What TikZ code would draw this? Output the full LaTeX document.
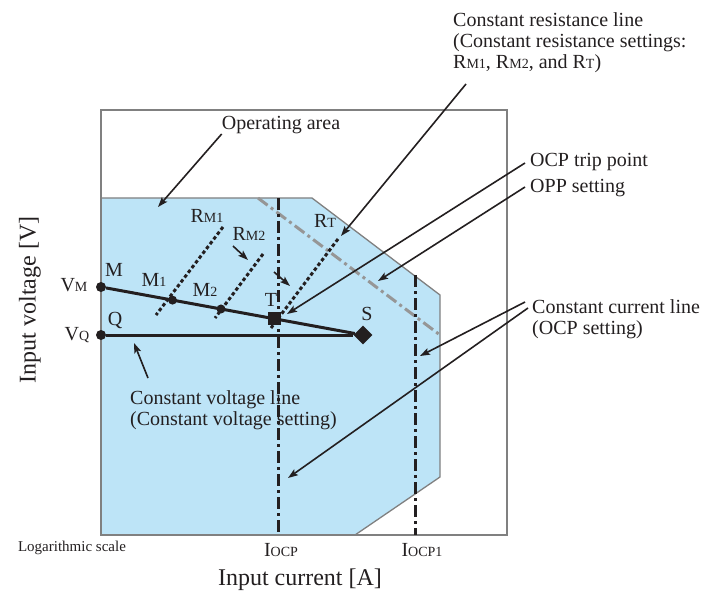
\documentclass[tikz,border=0pt]{standalone}
\usepackage{fontspec}
\setmainfont{Liberation Serif}
\usetikzlibrary{arrows.meta, shapes.geometric}
\definecolor{AreaBlue}{RGB}{189,228,247}
\definecolor{EdgeGray}{RGB}{128,128,128}
\definecolor{OppGray}{RGB}{150,150,150}
\definecolor{InkBlack}{RGB}{35,31,32}
\newcommand\smsub[1]{{\fontsize{14}{14}\selectfont #1}}

\begin{document}
\begin{tikzpicture}[x=1pt, y=-1pt,
    lbl/.style={font=\fontsize{20}{21}\selectfont, text=InkBlack, inner sep=0pt, align=left},
    axlbl/.style={font=\fontsize{24}{26}\selectfont, text=InkBlack, inner sep=0pt},
    frame/.style={draw=EdgeGray, line width=2.8pt},
    area/.style={fill=AreaBlue, draw=EdgeGray, line width=1.3pt},
    ocpline/.style={draw=InkBlack, line width=3pt, dash pattern=on 12pt off 4pt on 3pt off 4pt},
    oppline/.style={draw=OppGray, line width=3pt, dash pattern=on 12pt off 4pt on 3pt off 4pt},
    crline/.style={draw=InkBlack, line width=3pt, dash pattern=on 3.5pt off 2.5pt},
    opline/.style={draw=InkBlack, line width=3pt},
    dot/.style={circle, fill=InkBlack, inner sep=0pt, minimum size=10pt},
    lead/.style={-{Stealth[length=10pt, width=7pt, inset=2pt]}, draw=InkBlack, line width=1.6pt}
  ]
  \useasboundingbox (0,0) rectangle (712,596);

  % operating area and frame
  \fill[area] (101,198) -- (312,198) -- (440,295) -- (440,477) -- (355,535) -- (101,535) -- cycle;
  \draw[frame] (101,110) rectangle (507,535);

  % OPP and OCP lines
  \coordinate (opptop) at (258,198);
  \coordinate (oppbot) at (440,335);
  \coordinate (ocptop) at (278,198);
  \coordinate (ocpbot) at (278,535);
  \coordinate (ocp1top) at (415,275);
  \coordinate (ocp1bot) at (415,535);
  \draw[oppline] (opptop) -- (oppbot);
  \draw[ocpline] (ocptop) -- (ocpbot);
  \draw[ocpline] (ocp1top) -- (ocp1bot);

  % constant resistance lines
  \coordinate (rm1a) at (223,227);
  \coordinate (rm1b) at (156,315);
  \coordinate (rm2a) at (263,254);
  \coordinate (rm2b) at (215,318);
  \coordinate (rta) at (338,239);
  \coordinate (rtb) at (271,328);
  \draw[crline] (rm1a) -- (rm1b);
  \draw[crline] (rm2a) -- (rm2b);
  \draw[crline] (rta) -- (rtb);

  % operating points
  \node[dot] (M) at (101,287) {};
  \node[dot] (Q) at (101,335) {};
  \node[diamond, fill=InkBlack, inner sep=0pt, minimum size=19pt] (S) at (363,335) {};
  \draw[opline] (Q) -- (S);
  \draw[opline] (M) -- (S);
  \path (M) -- (S)
    node[dot, pos=0.267, minimum size=9pt] (M1) {}
    node[dot, pos=0.462, minimum size=9pt] (M2) {}
    node[rectangle, fill=InkBlack, inner sep=0pt, minimum size=13pt, pos=0.676] (T) {};

  % point labels
  \node[lbl] (Mlab) at (114,270) {M};
  \node[lbl] (M1lab) at (154,280) {M\smsub{1}};
  \node[lbl] (M2lab) at (205,290) {M\smsub{2}};
  \node[lbl] (Tlab) at (271,300) {T};
  \node[lbl] (Qlab) at (115,320) {Q};
  \node[lbl] (Slab) at (367,314) {S};
  \node[lbl] (VMlab) at (74,285) {V\smsub{M}};
  \node[lbl] (VQlab) at (77,335) {V\smsub{Q}};
  \node[lbl] (rm1lab) at (207,216) {R\smsub{M1}};
  \node[lbl] (rm2lab) at (249,234) {R\smsub{M2}};
  \node[lbl] (rtlab) at (325,221) {R\smsub{T}};

  % axes
  \node[axlbl, rotate=90] (ylab) at (30,300) {Input voltage [V]};
  \node[axlbl] (xlab) at (300,580) {Input current [A]};
  \node[font=\fontsize{15}{16}\selectfont, text=InkBlack, inner sep=0pt] (loglab) at (72,548) {Logarithmic scale};
  \node[lbl] (iocplab) at (281,550) {I\smsub{OCP}};
  \node[lbl] (iocp1lab) at (422,550) {I\smsub{OCP1}};

  % callouts
  \node[lbl] (oplab) at (281,125) {Operating area};
  \node[lbl, anchor=north west] (crlab) at (453,12) {Constant resistance line\\(Constant resistance settings:\\R\smsub{M1}, R\smsub{M2}, and R\smsub{T})};
  \node[lbl, anchor=west] (otplab) at (530,162) {OCP trip point};
  \node[lbl, anchor=west] (opplab) at (530,188) {OPP setting};
  \node[lbl, anchor=north west] (cclab) at (532,299) {Constant current line\\(OCP setting)};
  \node[lbl, anchor=north west] (cvlab) at (130,390) {Constant voltage line\\(Constant voltage setting)};

  % leaders
  \coordinate (optip) at (158,207);
  \coordinate (crstart) at (466,84);
  \coordinate (crtip) at (341,236);
  \coordinate (otpstart) at (525,163);
  \coordinate (otptip) at (287,314);
  \coordinate (oppstart) at (525,187);
  \coordinate (opptip) at (378,281);
  \coordinate (ccstart1) at (525,302);
  \coordinate (cctip1) at (420,356);
  \coordinate (ccstart2) at (528,308);
  \coordinate (cctip2) at (288,478);
  \coordinate (cvstart) at (148,378);
  \coordinate (cvtip) at (134,343);
  \coordinate (rm2start) at (233,246);
  \coordinate (rm2tip) at (248,260);
  \coordinate (rtstart) at (274,272);
  \coordinate (rttip) at (290,286);
  \draw[lead] (oplab.south west) -- (optip);
  \draw[lead] (crstart) -- (crtip);
  \draw[lead] (otpstart) -- (otptip);
  \draw[lead] (oppstart) -- (opptip);
  \draw[lead] (ccstart1) -- (cctip1);
  \draw[lead] (ccstart2) -- (cctip2);
  \draw[lead] (cvstart) -- (cvtip);
  \draw[lead] (rm2start) -- (rm2tip);
  \draw[lead] (rtstart) -- (rttip);
\end{tikzpicture}
\end{document}
